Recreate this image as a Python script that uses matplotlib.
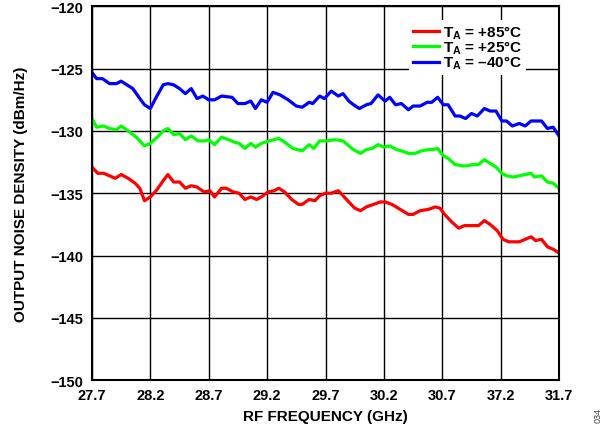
import matplotlib.pyplot as plt

plt.rcParams['font.family'] = 'Liberation Sans'
plt.rcParams['font.weight'] = 'bold'
plt.rcParams['mathtext.fontset'] = 'custom'
plt.rcParams['mathtext.rm'] = 'Liberation Sans:bold'
plt.rcParams['mathtext.it'] = 'Liberation Sans:bold'
plt.rcParams['mathtext.default'] = 'regular'

# --- Data (GHz, dBm/Hz) ---
freq_85 = [27.70, 27.75, 27.80, 27.85, 27.90, 27.95, 28.01, 28.07, 28.11, 28.15,
           28.20, 28.25, 28.31, 28.35, 28.40, 28.45, 28.50, 28.55, 28.60, 28.66,
           28.71, 28.75, 28.81, 28.85, 28.91, 28.96, 29.01, 29.06, 29.11, 29.15,
           29.21, 29.26, 29.30, 29.35, 29.41, 29.47, 29.50, 29.56, 29.61, 29.65,
           29.70, 29.75, 29.81, 29.85, 29.90, 29.95, 30.00, 30.05, 30.11, 30.17,
           30.21, 30.27, 30.34, 30.41, 30.45, 30.51, 30.58, 30.64, 30.68, 30.72,
           30.78, 30.84, 30.89, 30.96, 31.01, 31.06, 31.11, 31.17, 31.22, 31.27,
           31.31, 31.36, 31.41, 31.46, 31.50, 31.55, 31.60, 31.65, 31.70]
nd_85 = [-132.9, -133.4, -133.4, -133.6, -133.8, -133.5, -133.8, -134.2, -134.6, -135.6,
         -135.3, -134.8, -134.0, -133.5, -134.1, -134.1, -134.6, -134.4, -134.5, -134.9,
         -134.8, -135.3, -134.6, -134.6, -134.9, -135.0, -135.5, -135.3, -135.5, -135.3,
         -134.9, -134.8, -134.6, -134.9, -135.5, -135.9, -135.9, -135.5, -135.6, -135.2,
         -135.0, -135.0, -134.8, -135.2, -135.7, -136.2, -136.4, -136.1, -135.9, -135.7,
         -135.7, -135.9, -136.3, -136.7, -136.7, -136.4, -136.3, -136.1, -136.2, -136.7,
         -137.3, -137.8, -137.6, -137.6, -137.6, -137.2, -137.5, -138.0, -138.7, -138.9,
         -138.9, -138.9, -138.7, -138.5, -138.8, -138.7, -139.3, -139.5, -139.8]

freq_25 = [27.70, 27.74, 27.80, 27.85, 27.91, 27.95, 28.01, 28.08, 28.15, 28.20,
           28.27, 28.31, 28.35, 28.40, 28.45, 28.50, 28.55, 28.61, 28.67, 28.70,
           28.75, 28.81, 28.87, 28.92, 28.96, 29.01, 29.06, 29.10, 29.15, 29.22,
           29.30, 29.35, 29.42, 29.50, 29.56, 29.60, 29.65, 29.71, 29.78, 29.85,
           29.90, 29.94, 30.00, 30.05, 30.10, 30.15, 30.20, 30.25, 30.31, 30.35,
           30.41, 30.47, 30.52, 30.58, 30.62, 30.66, 30.71, 30.75, 30.81, 30.87,
           30.92, 30.96, 31.01, 31.06, 31.11, 31.16, 31.21, 31.25, 31.31, 31.36,
           31.41, 31.46, 31.49, 31.55, 31.60, 31.65, 31.70]
nd_25 = [-129.0, -129.7, -129.6, -129.8, -129.9, -129.6, -130.0, -130.5, -131.2, -131.0,
         -130.4, -130.0, -129.8, -130.3, -130.2, -130.7, -130.4, -130.8, -130.8, -130.7,
         -131.1, -130.5, -130.7, -130.9, -131.0, -131.4, -131.0, -131.3, -131.0, -130.8,
         -130.6, -130.9, -131.4, -131.6, -131.1, -131.4, -130.8, -130.8, -130.7, -130.8,
         -131.2, -131.5, -131.8, -131.5, -131.4, -131.1, -131.3, -131.2, -131.5, -131.6,
         -131.8, -131.8, -131.6, -131.5, -131.5, -131.4, -132.0, -132.2, -132.7, -132.8,
         -132.8, -132.7, -132.7, -132.3, -132.6, -132.9, -133.4, -133.6, -133.7, -133.6,
         -133.5, -133.4, -133.7, -133.6, -134.1, -134.2, -134.6]

freq_m40 = [27.70, 27.74, 27.79, 27.85, 27.91, 27.95, 28.00, 28.05, 28.11, 28.15,
            28.20, 28.25, 28.31, 28.35, 28.40, 28.45, 28.50, 28.55, 28.60, 28.65,
            28.70, 28.75, 28.81, 28.90, 28.95, 29.01, 29.06, 29.10, 29.15, 29.20,
            29.25, 29.31, 29.38, 29.45, 29.50, 29.56, 29.59, 29.65, 29.69, 29.75,
            29.81, 29.85, 29.90, 29.94, 29.99, 30.05, 30.09, 30.15, 30.21, 30.25,
            30.30, 30.35, 30.41, 30.45, 30.51, 30.57, 30.61, 30.66, 30.71, 30.75,
            30.81, 30.85, 30.90, 30.95, 31.00, 31.06, 31.11, 31.16, 31.21, 31.25,
            31.30, 31.36, 31.41, 31.46, 31.51, 31.55, 31.60, 31.65, 31.70]
nd_m40 = [-125.3, -125.8, -125.8, -126.2, -126.2, -126.0, -126.3, -126.6, -127.4, -127.9,
          -128.2, -127.3, -126.3, -126.2, -126.3, -126.6, -127.0, -126.6, -127.4, -127.2,
          -127.5, -127.5, -127.2, -127.3, -127.8, -127.8, -127.6, -128.2, -127.5, -127.7,
          -126.9, -127.1, -127.5, -128.0, -128.1, -127.7, -127.8, -127.2, -127.4, -126.8,
          -127.2, -127.0, -127.6, -127.9, -128.2, -127.9, -127.8, -127.1, -127.6, -127.3,
          -127.9, -127.8, -128.3, -128.0, -128.0, -127.7, -127.7, -127.3, -127.9, -127.9,
          -128.8, -128.8, -129.0, -128.6, -128.8, -128.2, -128.4, -128.4, -129.2, -129.2,
          -129.6, -129.4, -129.6, -129.2, -129.2, -129.2, -129.8, -129.7, -130.4]

xtick_pos = [27.7, 28.2, 28.7, 29.2, 29.7, 30.2, 30.7, 31.2, 31.7]
xtick_labels = ["27.7", "28.2", "28.7", "29.2", "29.7", "30.2", "30.7", "37.2", "31.7"]
ytick_pos = [-150, -145, -140, -135, -130, -125, -120]

# --- Plot ---
fig = plt.figure(figsize=(6.13, 4.35), dpi=100)
ax = fig.add_axes([0.150, 0.124, 0.762, 0.859])

ax.plot(freq_85, nd_85, color="#ff0000", lw=2.3, label="T$_{A}$ = +85°C")
ax.plot(freq_25, nd_25, color="#00ff00", lw=2.3, label="T$_{A}$ = +25°C")
ax.plot(freq_m40, nd_m40, color="#0000ff", lw=2.3, label="T$_{A}$ = \u201340°C")

ax.set_xlim(27.7, 31.7)
ax.set_ylim(-150, -120)
ax.set_xticks(xtick_pos, xtick_labels)
ax.set_yticks(ytick_pos)
ax.tick_params(length=0, labelsize=10.5, pad=6)
ax.grid(True, color="black", lw=1.0)
for s in ax.spines.values():
    s.set_linewidth(1.5)

ax.set_xlabel("RF FREQUENCY (GHz)", fontsize=11, fontweight="bold", labelpad=5)
ax.set_ylabel("OUTPUT NOISE DENSITY (dBm/Hz)", fontsize=11, fontweight="bold", labelpad=16)

leg = ax.legend(loc="upper right", bbox_to_anchor=(0.929, 0.964), frameon=True,
                fancybox=False, edgecolor="none", framealpha=1.0, fontsize=11,
                handlelength=1.7, handletextpad=0.22, labelspacing=-0.15,
                borderpad=0.25, borderaxespad=0.0)
leg.get_frame().set_facecolor("white")

fig.text(0.975, 0.045, "034", fontsize=6.5, rotation=90, color="#444444",
         ha="center", va="center", fontweight="normal")

fig.savefig("out.png", dpi=100)
